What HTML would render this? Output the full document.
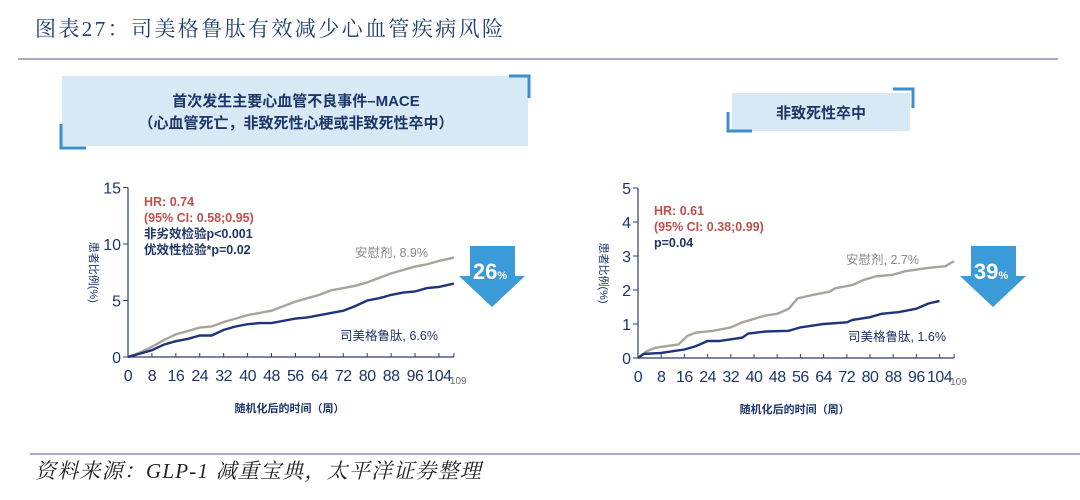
<!DOCTYPE html>
<html><head><meta charset="utf-8">
<style>
html,body{margin:0;padding:0;background:#fff;}
svg{display:block;}
.t{font-family:"Liberation Sans","Noto Sans CJK SC",sans-serif;}
</style></head>
<body>
<svg id="root" width="1080" height="500" viewBox="0 0 1080 500" xmlns="http://www.w3.org/2000/svg">
<text x="35" y="36" font-family="'Liberation Serif','Noto Serif CJK SC',serif" font-size="21" letter-spacing="2.4" fill="#1f3f72">图表27：司美格鲁肽有效减少心血管疾病风险</text>
<line x1="18" y1="59" x2="1058" y2="59" stroke="#8c8fb0" stroke-width="1.5"/>
<line x1="30" y1="454" x2="1080" y2="454" stroke="#8c8fb0" stroke-width="1.5"/>
<text x="35" y="478" font-family="'Liberation Serif','Noto Serif CJK SC',serif" font-style="italic" font-size="21" letter-spacing="1.2" fill="#222">资料来源：GLP-1 减重宝典，太平洋证券整理</text>

<g>
<rect x="62" y="76" width="466" height="70" fill="#d6e9f4"/>
<path d="M509 76 H529 V98" fill="none" stroke="#3b8fce" stroke-width="3"/>
<path d="M61 124 V148 H86" fill="none" stroke="#3b8fce" stroke-width="3"/>
<text class="t" x="296" y="106" text-anchor="middle" font-size="15" font-weight="bold" fill="#1d3568">首次发生主要心血管不良事件–MACE</text>
<text class="t" x="296" y="128" text-anchor="middle" font-size="15" font-weight="bold" fill="#1d3568">（心血管死亡，非致死性心梗或非致死性卒中）</text>
</g>
<g>
<rect x="732" y="93" width="178" height="38" fill="#d6e9f4"/>
<path d="M893 89 H913 V108" fill="none" stroke="#3b8fce" stroke-width="3"/>
<path d="M728 112 V131 H752" fill="none" stroke="#3b8fce" stroke-width="3"/>
<text class="t" x="821" y="118" text-anchor="middle" font-size="15" font-weight="bold" fill="#1d3568">非致死性卒中</text>
</g>

<g id="c1"></g>
<g id="c2"></g>
</svg>
<script>
const xTicks = [0,8,16,24,32,40,48,56,64,72,80,88,96,104];
const mPlaceboWeeks = [0,4,8,12,16,20,24,28,32,36,40,44,48,52,56,60,64,68,72,76,80,84,88,92,96,100,104,109];
const mPlaceboVals  = [0,0.4,0.9,1.5,2.0,2.3,2.6,2.7,3.1,3.4,3.7,3.9,4.1,4.5,4.9,5.2,5.5,5.9,6.1,6.3,6.6,7.0,7.4,7.7,8.0,8.2,8.5,8.8];
const mSemaWeeks = [0,4,8,12,16,20,24,28,32,36,40,44,48,52,56,60,64,68,72,76,80,84,88,92,96,100,104,109];
const mSemaVals  = [0,0.3,0.6,1.1,1.4,1.6,1.9,1.9,2.4,2.7,2.9,3.0,3.0,3.2,3.4,3.5,3.7,3.9,4.1,4.5,5.0,5.2,5.5,5.7,5.8,6.1,6.2,6.5];
const mYTicks = [0,5,10,15];
const sPlaceboWeeks = [0,3,6,10,14,17,20,26,32,36,40,44,48,52,55,60,66,68,74,78,82,88,92,100,106,109];
const sPlaceboVals  = [0,0.2,0.3,0.35,0.4,0.65,0.75,0.8,0.9,1.05,1.15,1.25,1.3,1.45,1.75,1.85,1.95,2.05,2.15,2.3,2.4,2.45,2.55,2.65,2.7,2.85];
const sSemaWeeks = [0,2,8,12,16,20,24,28,32,36,38,44,52,56,64,72,74,80,84,90,96,100,104];
const sSemaVals  = [0,0.12,0.15,0.2,0.25,0.35,0.5,0.5,0.55,0.6,0.72,0.78,0.8,0.9,1.0,1.05,1.12,1.2,1.3,1.35,1.45,1.6,1.68];
const sYTicks = [0,1,2,3,4,5];

const NS="http://www.w3.org/2000/svg";
function mk(parent,tag,attrs,txt){const e=document.createElementNS(NS,tag);for(const k in attrs)e.setAttribute(k,attrs[k]);if(txt!==undefined)e.textContent=txt;parent.appendChild(e);return e;}

function chart(g,cfg){
  const x=w=>cfg.x0+w*cfg.xs, y=v=>cfg.y0-v*cfg.ys;
  const ax=mk(g,'path',{d:`M${cfg.x0} ${y(cfg.yMax)} V${cfg.y0} H${x(109)}`,fill:'none',stroke:'#2c3f6e','stroke-width':1.2});
  
  
  cfg.yTicks.forEach(v=>{
    mk(g,'line',{x1:cfg.x0-5,x2:cfg.x0,y1:y(v),y2:y(v),stroke:'#2c3f6e'});
    const t=mk(g,'text',{x:cfg.x0-7,y:y(v)+6,'text-anchor':'end','font-size':16,fill:'#1d3568',class:'t'},String(v));
    
    
  });
  xTicks.concat([109]).forEach(w=>mk(g,'line',{x1:x(w),x2:x(w),y1:cfg.y0,y2:cfg.y0-4,stroke:'#2c3f6e'}));
  xTicks.forEach(w=>{
    const t=mk(g,'text',{x:x(w),y:cfg.y0+24,'text-anchor':'middle','font-size':16,'letter-spacing':-0.5,fill:'#1d3568',class:'t'},String(w));
    
    
  });
  mk(g,'text',{x:x(109)-4,y:cfg.y0+27,'font-size':10,fill:'#667',class:'t'},'109');
  const xt=mk(g,'text',{x:x(54),y:cfg.y0+55,'text-anchor':'middle','font-size':11,'font-weight':'bold',fill:'#1d3568',class:'t'},'随机化后的时间（周）');
  
  
  const yt=mk(g,'text',{x:0,y:0,transform:`translate(${cfg.x0-38},${y(cfg.yMax/2)}) rotate(90)`,'text-anchor':'middle','font-size':11,fill:'#1d3568',class:'t'},'患者比例(%)');
  
  
  function line(ws,vs,col,name){
    let d='';ws.forEach((w,i)=>{d+=(i?' L':'M')+x(w).toFixed(1)+' '+y(vs[i]).toFixed(1);});
    const p=mk(g,'path',{d,fill:'none',stroke:col,'stroke-width':2.4});
    
    
  }
  line(cfg.pw,cfg.pv,'#a8a49c','placebo-line');
  line(cfg.sw,cfg.sv,'#1f3478','semaglutide-line');
  const st=mk(g,'g',{class:'t','font-size':12.5,'font-weight':'bold'});
  
  
  cfg.stats.forEach((s,i)=>mk(st,'text',{x:cfg.x0+16,y:cfg.statY+i*16,fill:s[1]},s[0]));
  const pl=mk(g,'text',{x:cfg.plX,y:cfg.plY,'font-size':12.5,fill:'#8a8a8a',class:'t'},cfg.plText);
  
  
  const sl=mk(g,'text',{x:cfg.slX,y:cfg.slY,'font-size':12.5,fill:'#1d3568',class:'t'},cfg.slText);
  
  
  const ar=mk(g,'g',{});
  
  
  const a=cfg.arrow;
  mk(ar,'path',{d:`M${a.x-22} 246 H${a.x+23} V276 H${a.x+33} L${a.x} 307 L${a.x-33} 276 H${a.x-22} Z`,fill:'#3a9bd8'});
  const at=mk(ar,'text',{x:a.x-2,y:279,'text-anchor':'middle',fill:'#fff','font-weight':'bold',class:'t'});
  mk(at,'tspan',{'font-size':22},a.t);
  mk(at,'tspan',{'font-size':11},'%');
}
chart(document.getElementById('c1'),{x0:128,y0:357,xs:2.99,ys:11.3,yMax:15,yTicks:mYTicks,
  pw:mPlaceboWeeks,pv:mPlaceboVals,sw:mSemaWeeks,sv:mSemaVals,
  stats:[['HR: 0.74','#c0504d'],['(95% CI: 0.58;0.95)','#c0504d'],['非劣效检验p<0.001','#1d3568'],['优效性检验*p=0.02','#1d3568']],statY:206,
  plX:355,plY:257,plText:'安慰剂, 8.9%',slX:340,slY:340,slText:'司美格鲁肽, 6.6%',arrow:{x:492,t:'26'}});
chart(document.getElementById('c2'),{x0:638,y0:358,xs:2.9,ys:34,yMax:5,yTicks:sYTicks,
  pw:sPlaceboWeeks,pv:sPlaceboVals,sw:sSemaWeeks,sv:sSemaVals,
  stats:[['HR: 0.61','#c0504d'],['(95% CI: 0.38;0.99)','#c0504d'],['p=0.04','#1d3568']],statY:215,
  plX:846,plY:264,plText:'安慰剂, 2.7%',slX:848,slY:341,slText:'司美格鲁肽, 1.6%',arrow:{x:993,t:'39'}});
</script>
</body></html>
